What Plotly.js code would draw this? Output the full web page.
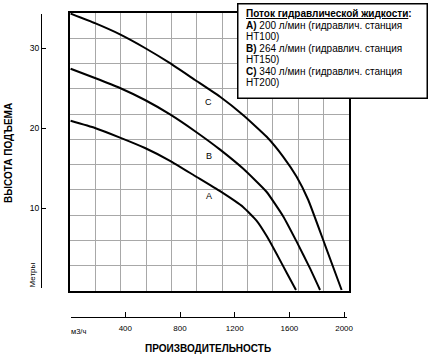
<!DOCTYPE html>
<html>
<head>
<meta charset="utf-8">
<script src="https://cdn.plot.ly/plotly-3.0.1.min.js"></script>
<style>html,body{margin:0;padding:0;background:#fff}#chart{width:430px;height:355px}</style>
</head>
<body>
<div id="chart"></div>
<script>
// Data (flow m3/h vs head m)
const flowA = [0, 178, 361, 544, 727, 910, 1093, 1263, 1361, 1434, 1507, 1580, 1648];
const headA = [20.9, 20.0, 18.8, 17.5, 15.9, 14.0, 12.1, 10.1, 8.4, 6.5, 4.25, 1.9, -0.25];
const flowB = [0, 178, 361, 544, 727, 910, 1093, 1263, 1434, 1555, 1653, 1751, 1824];
const headB = [27.4, 26.25, 25.0, 23.5, 21.7, 19.6, 17.3, 14.9, 12.0, 8.95, 5.8, 2.45, -0.25];
const flowC = [0, 178, 361, 544, 727, 910, 1093, 1263, 1434, 1555, 1653, 1738, 1860, 1982];
const headC = [34.3, 33.1, 31.7, 30.0, 28.1, 26.0, 23.9, 21.6, 18.9, 16.4, 13.9, 11.0, 5.4, -0.25];
const curveNames = ["A", "B", "C"];
const curveLabelX = [1012, 1012, 1012];
const curveLabelY = [11.5, 16.5, 23.2];
const xTickVals = [0, 400, 800, 1200, 1600, 2000];
const xTickText = ["", "400", "800", "1200", "1600", "2000"];
const yTickVals = [0, 10, 20, 30];
const yTickText = ["", "10", "20", "30"];
const legendTitle = "Поток гидравлической жидкости";
const legendLines = [
  "<b>A)</b> 200 л/мин (гидравлич. станция", "HT100)",
  "<b>B)</b> 264 л/мин (гидравлич. станция", "HT150)",
  "<b>C)</b> 340 л/мин (гидравлич. станция", "HT200)"
];
const xTitle = "ПРОИЗВОДИТЕЛЬНОСТЬ";
const yTitle = "ВЫСОТА ПОДЪЕМА";
const yUnit = "Метры";
const xUnit = "м3/ч";

const FONT = "Liberation Sans, Arial, sans-serif";
// pixel helpers for paper coordinates (margins l=41, t=13, plot 308x304)
const px = v => (v - 41) / 308;
const py = v => (317 - v) / 304;

const mkLine = () => ({color: "#000", width: 2, shape: "spline", smoothing: 0.4});
const traces = [
  {x: [null], y: [null], xaxis: "x", yaxis: "y", mode: "markers", hoverinfo: "skip", showlegend: false},
  {x: flowA, y: headA, xaxis: "x2", yaxis: "y2", mode: "lines", line: mkLine(), name: "A", hoverinfo: "skip"},
  {x: flowB, y: headB, xaxis: "x2", yaxis: "y2", mode: "lines", line: mkLine(), name: "B", hoverinfo: "skip"},
  {x: flowC, y: headC, xaxis: "x2", yaxis: "y2", mode: "lines", line: mkLine(), name: "C", hoverinfo: "skip"}
];

const annotations = [];
// legend frame (drawn first so the text lies on top)
annotations.push({
  xref: "paper", yref: "paper", x: px(332.5), y: py(51), xanchor: "center", yanchor: "middle",
  text: " ", showarrow: false, width: 188, height: 93, borderpad: 0,
  bgcolor: "#fff", bordercolor: "#000", borderwidth: 1.5
});
curveNames.forEach((n, i) => annotations.push({
  xref: "x2", yref: "y2", x: curveLabelX[i], y: curveLabelY[i], text: n, showarrow: false,
  xanchor: "center", yanchor: "middle", font: {family: FONT, size: 9, color: "#000"}
}));
annotations.push({
  xref: "paper", yref: "paper", x: px(244), y: py(14), xanchor: "left", yanchor: "middle",
  text: "<b><u>" + legendTitle + "</u>:</b>", showarrow: false, align: "left",
  font: {family: FONT, size: 10, color: "#000"}
});
legendLines.forEach((t, i) => annotations.push({
  xref: "paper", yref: "paper", x: px(244), y: py(25.45 + 11.45 * i), xanchor: "left", yanchor: "middle",
  text: t, showarrow: false, align: "left", font: {family: FONT, size: 10, color: "#000"}
}));
annotations.push({xref: "paper", yref: "paper", x: px(208), y: py(348), xanchor: "center", yanchor: "middle",
  text: "<b>" + xTitle + "</b>", showarrow: false, font: {family: FONT, size: 10, color: "#000"}});
annotations.push({xref: "paper", yref: "paper", x: px(8), y: py(153), xanchor: "center", yanchor: "middle",
  text: "<b>" + yTitle + "</b>", showarrow: false, textangle: -90, font: {family: FONT, size: 10, color: "#000"}});
annotations.push({xref: "paper", yref: "paper", x: px(31.5), y: py(275), xanchor: "center", yanchor: "middle",
  text: yUnit, showarrow: false, textangle: -90, font: {family: FONT, size: 8, color: "#000"}});
annotations.push({xref: "paper", yref: "paper", x: px(78), y: py(331.5), xanchor: "center", yanchor: "middle",
  text: xUnit, showarrow: false, font: {family: FONT, size: 7.5, color: "#000"}});

const gridColor = "#a8a8a8";
const layout = {
  width: 430, height: 355,
  margin: {l: 41, r: 81, t: 13, b: 38, pad: 0, autoexpand: false},
  paper_bgcolor: "#fff", plot_bgcolor: "rgba(0,0,0,0)",
  showlegend: false,
  font: {family: FONT, size: 8, color: "#000"},
  // displaced measurement axes
  xaxis: {
    domain: [px(70.6), px(347)], range: [0, 2021.2], anchor: "free", position: 0,
    tickmode: "array", tickvals: xTickVals, ticktext: xTickText,
    ticks: "inside", ticklen: 5, tickwidth: 1, tickcolor: "#000",
    showline: true, linecolor: "#000", linewidth: 1.2, showgrid: false, zeroline: false,
    tickfont: {family: FONT, size: 8, color: "#000"}, ticklabelstandoff: 3
  },
  yaxis: {
    domain: [py(288), py(14)], range: [0, 34.25], anchor: "free", position: 0,
    tickmode: "array", tickvals: yTickVals, ticktext: yTickText,
    ticks: "inside", ticklen: 4, tickwidth: 1, tickcolor: "#000",
    showline: true, linecolor: "#000", linewidth: 1.2, showgrid: false, zeroline: false,
    tickfont: {family: FONT, size: 8.5, color: "#000"}
  },
  // framed grid area holding the curves
  xaxis2: {
    domain: [px(70), 1], range: [-4.4, 2035.8], anchor: "y2",
    tickmode: "linear", tick0: -4.4, dtick: 2040.2 / 11,
    showgrid: true, gridcolor: gridColor, gridwidth: 1, zeroline: false,
    showticklabels: false, ticks: "", showline: true, mirror: true, linecolor: "#000", linewidth: 2
  },
  yaxis2: {
    domain: [py(291), 1], range: [-0.375, 34.375], anchor: "x2",
    tickmode: "linear", tick0: -0.375, dtick: 34.75 / 11,
    showgrid: true, gridcolor: gridColor, gridwidth: 1, zeroline: false,
    showticklabels: false, ticks: "", showline: true, mirror: true, linecolor: "#000", linewidth: 2
  },
  annotations: annotations
};

Plotly.newPlot("chart", traces, layout, {staticPlot: true, displayModeBar: false}).then(() => {
  // force style/layout resolution of the grid and background layers (as in the working check)
  document.querySelectorAll(".gridlayer path").forEach(p => {
    const cs = getComputedStyle(p);
    void cs.stroke; void cs.opacity;
    p.getBoundingClientRect();
  });
  document.querySelectorAll("#chart svg rect").forEach(rc => {
    rc.getBoundingClientRect();
    void getComputedStyle(rc).fill;
  });
  const marker = document.createElement("div");
  marker.style.cssText = "position:absolute;left:0;top:0;width:0;height:0;";
  document.body.appendChild(marker);
});
</script>
</body>
</html>
